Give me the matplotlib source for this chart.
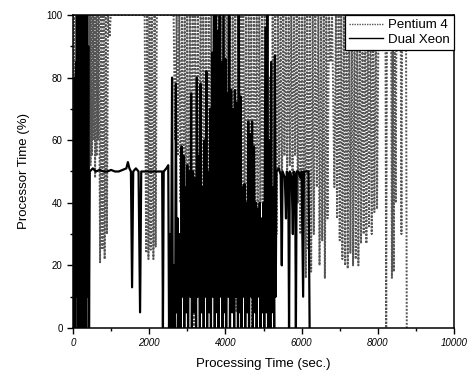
import matplotlib
matplotlib.use("Agg")
import matplotlib.pyplot as plt
from matplotlib.ticker import MultipleLocator

plt.rcParams['font.family'] = ['Liberation Sans', 'DejaVu Sans']

# Pentium 4 - processor time (%) against processing time (s)
p4_time = [0, 20, 40, 60, 80, 100, 120, 140, 160, 180, 200, 220, 240, 260, 280, 300,
           320, 340, 360, 380, 400, 420, 440, 460, 480, 500, 520, 540, 560, 580, 600,
           620, 640, 660, 680,
           710, 740, 770, 800, 830, 860, 890, 920, 960, 990, 1400, 1880,
           1920, 1950, 1980, 2010, 2040, 2070, 2110, 2140, 2170, 2200, 2640,
           2680, 2720, 2750, 2790, 2820, 2860, 2890, 2930, 2960, 3000, 3030, 3070,
           3100, 3140, 3170, 3210, 3240, 3280, 3310, 3350, 3380, 3420, 3450, 3490,
           3520, 3560, 3590, 3630, 3660, 3700, 3730, 3770, 3800, 3840, 3870, 3910,
           3940, 3980, 4010, 4050, 4080, 4120, 4150, 4190, 4220, 4260, 4290, 4330,
           4360, 4400, 4430, 4470, 4500, 4540, 4570, 4610, 4640, 4680, 4710, 4750,
           4780, 4820, 4850, 4890, 4920, 4960, 4990, 5030, 5060, 5100, 5130, 5170,
           5200, 5240, 5270, 5310, 5340, 5380, 5410, 5450, 5480, 5520, 5550, 5590,
           5620, 5660, 5690, 5730, 5760, 5800, 5830, 5870, 5900,
           5940, 5970, 6010, 6040, 6080, 6110, 6150, 6180, 6220, 6250, 6290, 6320,
           6360, 6400, 6440, 6470, 6510, 6540, 6580, 6610, 6650, 6680, 6720,
           6760, 6800,
           6860, 6900, 6930, 6970, 7000, 7040, 7070, 7110, 7140, 7180, 7210, 7250,
           7280, 7320, 7350, 7390, 7420, 7460, 7490, 7530, 7560, 7600, 7630, 7670,
           7700, 7740, 7770, 7810, 7840, 7880, 7910, 7950, 7980, 8020,
           8200, 8220, 8240, 8350, 8370, 8390, 8420, 8440, 8470, 8490, 8600, 8620,
           8640, 8740, 8760]
p4_load = [100, 40, 100, 50, 100, 15, 100, 48, 100, 45, 100, 52, 100, 30, 100, 47,
           100, 50, 100, 44, 100, 48, 100, 52, 100, 55, 100, 60, 100, 48, 100,
           55, 100, 60, 100,
           21, 100, 25, 100, 22, 100, 30, 100, 93, 100, 100, 100,
           24, 100, 22, 100, 25, 100, 22, 100, 26, 100, 100,
           60, 100, 55, 100, 40, 100, 20, 100, 35, 100, 10, 100,
           30, 100, 0, 100, 25, 100, 40, 100, 15, 100, 30, 100,
           5, 100, 35, 100, 20, 100, 45, 100, 10, 100, 30, 100,
           0, 100, 25, 100, 40, 100, 15, 100, 35, 100, 5, 100,
           30, 100, 20, 100, 40, 100, 10, 100, 35, 100, 0, 100,
           30, 100, 15, 100, 40, 100, 25, 100, 10, 100, 30, 80,
           20, 100, 45, 100, 30, 100, 50, 100, 40, 100, 55, 100,
           48, 100, 52, 100, 45, 100, 55, 100, 40,
           100, 30, 100, 20, 100, 16, 100, 25, 100, 18, 100, 30,
           100, 45, 100, 20, 100, 28, 100, 16, 100, 35, 100,
           85, 100,
           45, 100, 35, 100, 28, 100, 22, 100, 20, 100, 19, 100,
           24, 100, 20, 100, 22, 100, 20, 100, 27, 100, 30, 100,
           27, 100, 32, 100, 30, 100, 37, 100, 38, 100,
           100, 0, 100, 100, 16, 100, 18, 100, 40, 100, 100, 30,
           100, 100, 0]

# Dual Xeon - processor time (%) against processing time (s)
xeon_time = [0, 15, 30, 45, 60, 80, 100, 120, 135, 150, 170, 190, 205, 220, 240,
             260, 275, 290, 310, 330, 345, 360, 380, 400, 420, 440,
             520, 600, 700, 800, 900, 1000, 1100, 1200, 1300, 1400, 1440, 1480,
             1520, 1550, 1580, 1650, 1720, 1760, 1790, 1900, 2000, 2100, 2200,
             2300, 2340, 2360, 2380, 2450, 2500, 2520,
             2550, 2570, 2600, 2620, 2650, 2680, 2700, 2720, 2750, 2770, 2800,
             2830, 2850, 2870, 2900, 2920, 2950, 2980, 3000, 3020, 3050, 3080,
             3100, 3120, 3150, 3180, 3200, 3230, 3250, 3270, 3300, 3330, 3350,
             3370, 3400, 3430, 3450, 3480, 3500, 3520, 3550, 3580, 3600, 3620,
             3650, 3670, 3700, 3720, 3750, 3780, 3800, 3820, 3850, 3880, 3900,
             3920, 3950, 3980, 4000, 4020, 4050, 4080, 4100, 4120, 4150, 4180,
             4200, 4230, 4250, 4280, 4300, 4330, 4350, 4380, 4400, 4420, 4450,
             4480, 4500, 4520, 4550, 4580, 4600, 4620, 4650, 4680, 4700, 4720,
             4750, 4780, 4800, 4820, 4850, 4880, 4900, 4920, 4950, 4980, 5000,
             5020, 5050, 5080, 5100, 5120, 5150, 5180, 5200, 5220, 5250, 5280,
             5300, 5320, 5340,
             5400, 5450, 5480, 5500, 5560, 5590, 5610, 5650, 5670, 5690, 5740,
             5770, 5790, 5830, 5850, 5870, 5920, 5960, 6000, 6040, 6060, 6120,
             6180, 6210]
xeon_load = [0, 60, 5, 80, 0, 85, 10, 100, 0, 95, 5, 100, 0, 90, 15,
             100, 0, 100, 5, 95, 0, 100, 10, 90, 0, 50,
             51, 50, 50.5, 50, 50, 50.5, 50, 50, 50.5, 51, 53, 51,
             50, 13, 50, 51, 50, 5, 50, 50, 50, 50, 50,
             50, 50, 0, 50, 51, 52, 0,
             30, 0, 80, 0, 20, 0, 78, 5, 35, 0, 30,
             0, 58, 10, 55, 0, 45, 5, 52, 0, 50, 10,
             75, 0, 50, 5, 48, 0, 80, 10, 55, 0, 78,
             5, 45, 0, 60, 10, 82, 0, 50, 5, 70, 0,
             88, 10, 100, 0, 100, 5, 95, 0, 100, 10, 85,
             0, 100, 5, 86, 0, 75, 10, 100, 0, 76, 5,
             70, 0, 76, 10, 72, 0, 100, 5, 74, 0, 45,
             10, 46, 0, 40, 5, 66, 0, 62, 10, 66, 0,
             58, 5, 40, 0, 38, 10, 40, 0, 35, 5, 40,
             0, 96, 5, 100, 0, 60, 0, 85, 5, 45, 0,
             87, 10, 50,
             51, 49, 20, 50, 48, 35, 50, 49, 0, 50, 48,
             30, 50, 49, 0, 50, 50, 48, 50, 10, 50, 50,
             50, 0]

fig = plt.figure(figsize=(4.76, 3.76), dpi=100)
ax = fig.add_axes([0.1534, 0.1277, 0.8004, 0.8324])

ax.plot(p4_time, p4_load, color='#555555', linestyle=(0, (1, 0.8)), linewidth=1.4,
        label='Pentium 4')
ax.plot(xeon_time, xeon_load, color='black', linestyle='-', linewidth=1.6,
        label='Dual Xeon')

ax.set_xlim(0, 10000)
ax.set_ylim(0, 100)
ax.xaxis.set_major_locator(MultipleLocator(2000))
ax.xaxis.set_minor_locator(MultipleLocator(1000))
ax.yaxis.set_major_locator(MultipleLocator(20))
ax.yaxis.set_minor_locator(MultipleLocator(10))
ax.tick_params(which='major', direction='out', length=4, width=1, labelsize=7)
ax.tick_params(which='minor', direction='out', length=2.5, width=1)
for lab in ax.get_xticklabels():
    lab.set_fontstyle('italic')
for s in ax.spines.values():
    s.set_linewidth(1.1)

ax.set_xlabel('Processing Time (sec.)', fontsize=9.5, labelpad=7)
ax.set_ylabel('Processor Time (%)', fontsize=9.5, labelpad=12)

leg = ax.legend(loc='upper right', fontsize=9.5, frameon=True, fancybox=False,
                framealpha=1, edgecolor='black', borderaxespad=0,
                handlelength=2.6, borderpad=0.3, labelspacing=0.2,
                handletextpad=0.4)
leg.get_frame().set_linewidth(0.9)
for line in leg.get_lines():
    line.set_linewidth(1.0)

fig.savefig('out.png', dpi=100)
